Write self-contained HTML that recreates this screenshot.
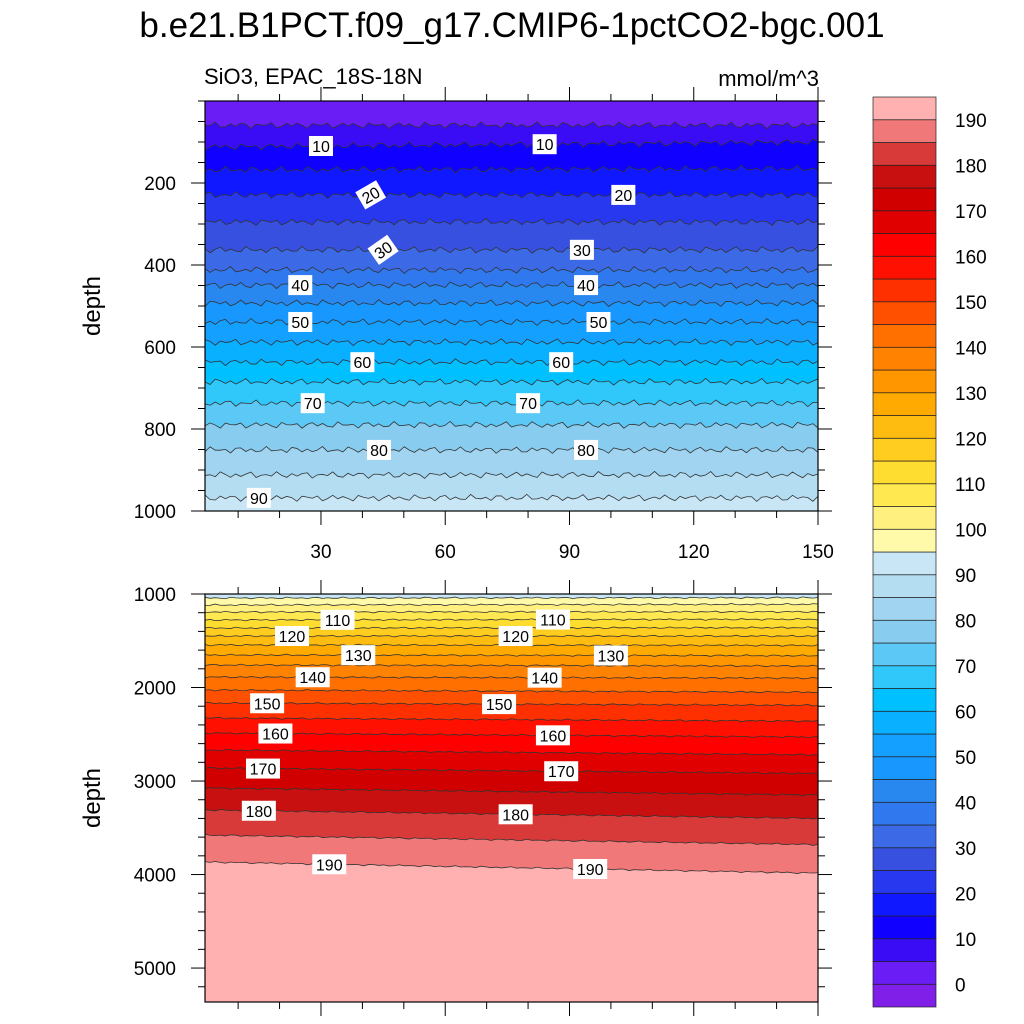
<!DOCTYPE html>
<html><head><meta charset="utf-8"><style>
html,body{margin:0;padding:0;background:#fff;width:1024px;height:1024px;overflow:hidden;}
svg{display:block;font-family:"Liberation Sans",sans-serif;}
</style></head><body>
<svg id="chart" width="1024" height="1024" viewBox="0 0 1024 1024" xmlns="http://www.w3.org/2000/svg">
<text x="512" y="37" font-size="35" text-anchor="middle">b.e21.B1PCT.f09_g17.CMIP6-1pctCO2-bgc.001</text>
<text x="204" y="84" font-size="22">SiO3, EPAC_18S-18N</text>
<text x="819" y="86" font-size="22" text-anchor="end">mmol/m^3</text>
<g id="top"></g>
<g id="bot"></g>
<g id="cbar"></g>
</svg>
<script>
const levels = [5,10,15,20,25,30,35,40,45,50,55,60,65,70,75,80,85,90,95,100,105,110,115,120,125,130,135,140,145,150,155,160,165,170,175,180,185,190];
const colors = ["#7f1fe8","#6a1ef5","#3a0cf5","#1000ff","#1018ff","#2838ee","#3850e0","#3c6ae6","#3078ee","#2888f0","#1898ff","#14a0ff","#08b0ff","#00c0ff","#30c8fa","#5cc8f5","#88ccf0","#a0d4f0","#b4ddf2","#c8e6f6","#fffaaa","#fff080","#ffe850","#ffdc30","#ffcc20","#ffbc10","#ffaa00","#ff9600","#ff8200","#ff7000","#ff5000","#ff3000","#ff1000","#ff0000","#e00000","#d00000","#c81010","#d83a3a","#f07878","#ffb0b0"];
// depth (m) of each contour level at west (x=2) and east (x=150) edges
const depthWest = [59,112,168,229,295,363,412,449,493,539,588,637,685,737,790,851,912,968,1043,1118,1193,1278,1364,1449,1545,1652,1759,1888,2027,2166,2326,2487,2668,2861,3075,3310,3578,3866];
const depthEast = [59,100,165,229,295,363,412,449,493,539,588,637,685,737,790,851,912,968,1040,1110,1190,1270,1360,1450,1550,1660,1770,1900,2050,2190,2360,2530,2720,2920,3150,3400,3680,3985];
const cbarLabels = [0,10,20,30,40,50,60,70,80,90,100,110,120,130,140,150,160,170,180,190];
const xTicks = [30,60,90,120,150];
const topYTicks = [200,400,600,800,1000];
const botYTicks = [1000,2000,3000,4000,5000];
const labelLevelsTop = [10,10,20,20,30,30,40,40,50,50,60,60,70,70,80,80,90];
const labelXTop = [30,84,42,103,45,93,25,94,25,97,40,88,28,80,44,94,15];
const labelRotTop = [0,0,-30,0,-35,0,0,0,0,0,0,0,0,0,0,0,0];
const labelLevelsBot = [110,110,120,120,130,130,140,140,150,150,160,160,170,170,180,180,190,190];
const labelXBot = [34,86,23,77,39,100,28,84,17,73,19,86,16,88,15,77,32,95];

const NS="http://www.w3.org/2000/svg";
function mk(t,a,p){const e=document.createElementNS(NS,t);for(const k in a)e.setAttribute(k,a[k]);p.appendChild(e);return e;}
const X0=205,X1=818,XMIN=2,XMAX=150;
const xs=v=>X0+(v-XMIN)/(XMAX-XMIN)*(X1-X0);
const panels=[
 {g:document.getElementById('top'),y0:101,y1:511,dmin:0,dmax:1000,ticks:topYTicks,minor:50,wig:2.2,ll:labelLevelsTop,lx:labelXTop,lr:labelRotTop,xlab:true},
 {g:document.getElementById('bot'),y0:594,y1:1002,dmin:1000,dmax:5363,ticks:botYTicks,minor:200,wig:0.6,ll:labelLevelsBot,lx:labelXBot,lr:null,xlab:false}
];
function lineDepth(i,x){const f=(x-XMIN)/(XMAX-XMIN);return depthWest[i]*(1-f)+depthEast[i]*f;}
panels.forEach((P,pi)=>{
 const ys=d=>P.y0+(d-P.dmin)/(P.dmax-P.dmin)*(P.y1-P.y0);
 const cid='clip'+pi;
 const cp=mk('clipPath',{id:cid},P.g);mk('rect',{x:X0,y:P.y0,width:X1-X0,height:P.y1-P.y0},cp);
 const inner=mk('g',{'clip-path':'url(#'+cid+')'},P.g);
 const N=120;
 function pts(i){const a=[];for(let k=0;k<=N;k++){const x=XMIN+(XMAX-XMIN)*k/N;const w=P.wig*(Math.sin(k*2.3+i)+0.6*Math.sin(k*5.1+i*1.7));a.push([xs(x),Math.min(P.y1,ys(lineDepth(i,x))+w)]);}return a;}
 const bg=mk('rect',{x:X0,y:P.y0,width:X1-X0,height:P.y1-P.y0,fill:colors[pi===0?1:39]},inner);
 
 
 for(let i=0;i<levels.length;i++){
  const p=pts(i);
  const d='M'+p.map(q=>q[0].toFixed(1)+','+q[1].toFixed(1)).join('L')+'L'+X1+','+P.y1+'L'+X0+','+P.y1+'Z';
  const band=mk('path',{d:d,fill:colors[i+2]},inner);
  
  
 }
 for(let i=0;i<levels.length;i++){
  const p=pts(i);
  const ln=mk('polyline',{points:p.map(q=>q.join(',')).join(' '),fill:'none',stroke:'#333','stroke-width':0.8},inner);
  
  
 }
 P.ll.forEach((lv,j)=>{
  const i=levels.indexOf(lv);const x=xs(P.lx[j]);const y=ys(lineDepth(i,P.lx[j]));
  const rot=P.lr?P.lr[j]:0;
  const g=mk('g',{transform:'translate('+x+','+y+') rotate('+rot+')'},inner);
  
  
  const w=lv>=100?34:24;
  mk('rect',{x:-w/2,y:-10,width:w,height:20,fill:'#fff'},g);
  const t=mk('text',{x:0,y:6,'font-size':16,'text-anchor':'middle'},g);t.textContent=lv;
 });
 const fr=mk('rect',{x:X0,y:P.y0,width:X1-X0,height:P.y1-P.y0,fill:'none',stroke:'#000','stroke-width':1.2},P.g);
 
 
 for(let d=Math.ceil(P.dmin/P.minor)*P.minor;d<=P.dmax;d+=P.minor){
  const y=ys(d);const maj=P.ticks.includes(d);const L=maj?14:7;
  mk('line',{x1:X0-L,x2:X0,y1:y,y2:y,stroke:'#000','stroke-width':1},P.g);
  mk('line',{x1:X1,x2:X1+L,y1:y,y2:y,stroke:'#000','stroke-width':1},P.g);
 }
 P.ticks.forEach(d=>{const t=mk('text',{x:176,y:ys(d)+7,'font-size':19,'text-anchor':'end'},P.g);t.textContent=d;
  });
 for(let v=10;v<=150;v+=10){const x=xs(v);const maj=xTicks.includes(v);const L=maj?14:7;
  mk('line',{x1:x,x2:x,y1:P.y1,y2:P.y1+L,stroke:'#000'},P.g);
  mk('line',{x1:x,x2:x,y1:P.y0,y2:P.y0-L,stroke:'#000'},P.g);}
 if(P.xlab)xTicks.forEach(v=>{const t=mk('text',{x:xs(v),y:558,'font-size':19,'text-anchor':'middle'},P.g);t.textContent=v;
  });
 const yl=mk('text',{x:0,y:0,'font-size':24,'text-anchor':'middle',transform:'translate(100,'+((P.y0+P.y1)/2)+') rotate(-90)'},P.g);
 yl.textContent='depth';
 
 
});
const cb=document.getElementById('cbar');const CT=97,CB=1007,CX=873,CW=63;const bh=(CB-CT)/colors.length;
colors.forEach((c,i)=>{const r=mk('rect',{x:CX,y:CB-(i+1)*bh,width:CW,height:bh,fill:c,stroke:'#222','stroke-width':0.7},cb);
 });
cbarLabels.forEach(v=>{const i=v/5+1;const t=mk('text',{x:955,y:CB-i*bh+7,'font-size':19},cb);t.textContent=v;
 });
</script>
</body></html>
